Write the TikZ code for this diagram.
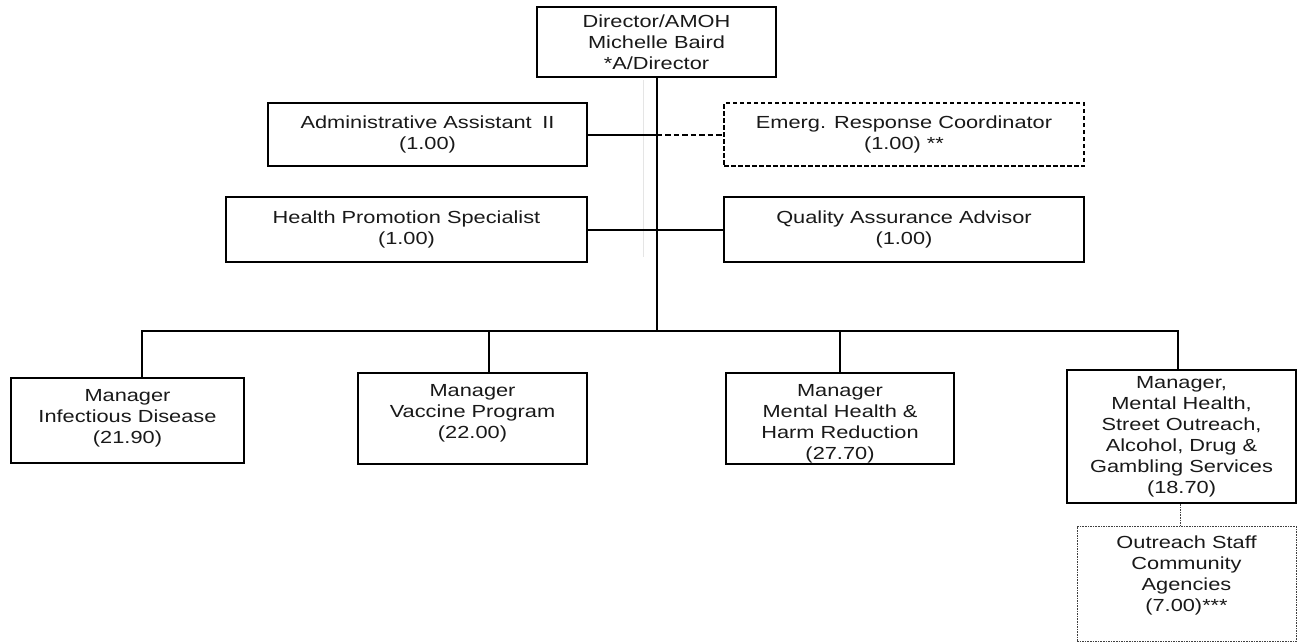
\documentclass[tikz,border=0pt]{standalone}
\usepackage{fontspec}
\setmainfont{Liberation Sans}[FakeStretch=1.245]
\newcommand\orgfont{\fontsize{17.5}{21}\selectfont}
\begin{document}
\begin{tikzpicture}[x=1pt,y=-1pt,
  box/.style={draw, line width=2pt, inner sep=0pt, align=center, font=\orgfont, text=black!90},
  dashbox/.style={box, line width=1.6pt, dash pattern=on 4.5pt off 2.5pt},
  dotbox/.style={draw=black!75, line width=0.9pt, dash pattern=on 1.6pt off 1pt, inner sep=0pt},
  txt/.style={inner sep=0pt, align=center, font=\orgfont, text=black!90},
  conn/.style={line width=2pt},
  dashconn/.style={line width=2pt, dash pattern=on 5.5pt off 3pt},
  dotconn/.style={draw=black!75, line width=0.9pt, dash pattern=on 1.6pt off 1pt},
  faint/.style={draw=black!10, line width=1pt}]
\useasboundingbox (0,0) rectangle (1297,642);

% director and staff reporting directly
\node[box, minimum width=239, minimum height=70] (dir) at (656.5,42)
  {Director/AMOH\\Michelle Baird\\*A/Director};
\node[box, minimum width=319, minimum height=63] (admin) at (427.5,134.5)
  {Administrative Assistant\hspace{0.6em}II\\(1.00)};
\node[dashbox, minimum width=360, minimum height=63] (emerg) at (904,134.5)
  {Emerg. Response Coordinator\\(1.00) **};
\node[box, minimum width=361, minimum height=65] (hp) at (406.5,229.5)
  {Health Promotion Specialist\\(1.00)};
\node[box, minimum width=360, minimum height=65] (qa) at (904,229.5)
  {Quality Assurance Advisor\\(1.00)};

% managers
\node[box, minimum width=233, minimum height=85] (id) at (127.5,420.5) {};
\node[txt, anchor=north, yshift=-12.5pt] (idt) at (id.north)
  {Manager\\Infectious Disease\\(21.90)};
\node[box, minimum width=229, minimum height=91] (vac) at (472.5,418.5) {};
\node[txt, anchor=north, yshift=-12pt] (vact) at (vac.north)
  {Manager\\Vaccine Program\\(22.00)};
\node[box, minimum width=228, minimum height=91] (mh) at (840,418.5) {};
\node[txt, anchor=north, yshift=-12pt] (mht) at (mh.north)
  {Manager\\Mental Health \&\\Harm Reduction\\(27.70)};
\node[box, minimum width=229, minimum height=133] (last) at (1181.5,436.5)
  {Manager,\\Mental Health,\\Street Outreach,\\Alcohol, Drug \&\\Gambling Services\\(18.70)};
\node[dotbox, minimum width=219, minimum height=115] (out) at (1186.5,584) {};
\node[txt, anchor=north, yshift=-10pt] (outt) at (out.north)
  {Outreach Staff\\Community\\Agencies\\(7.00)***};

% faint guide stroke beside the trunk
\draw[faint] (643,80) -- (643,257);

% trunk and side branches
\coordinate (busc) at (656.5,331);
\draw[conn] (dir.south) -- (busc);
\draw[conn] (admin.east) -- (admin.east -| dir.south);
\draw[dashconn] (admin.east -| dir.south) -- (emerg.west);
\draw[conn] (hp.east) -- (qa.west);

% bus to the managers
\coordinate (b1) at (142,331);
\coordinate (b2) at (489,331);
\coordinate (b3) at (840,331);
\coordinate (b4) at (1178,331);
\draw[conn, line cap=rect] (b1) -- (b4);
\draw[conn] (b1) -- (b1 |- id.north);
\draw[conn] (b2) -- (b2 |- vac.north);
\draw[conn] (b3) -- (b3 |- mh.north);
\draw[conn] (b4) -- (b4 |- last.north);

% outreach link
\coordinate (dl) at (1180,0);
\draw[dotconn] (last.south -| dl) -- (out.north -| dl);
\end{tikzpicture}
\end{document}
